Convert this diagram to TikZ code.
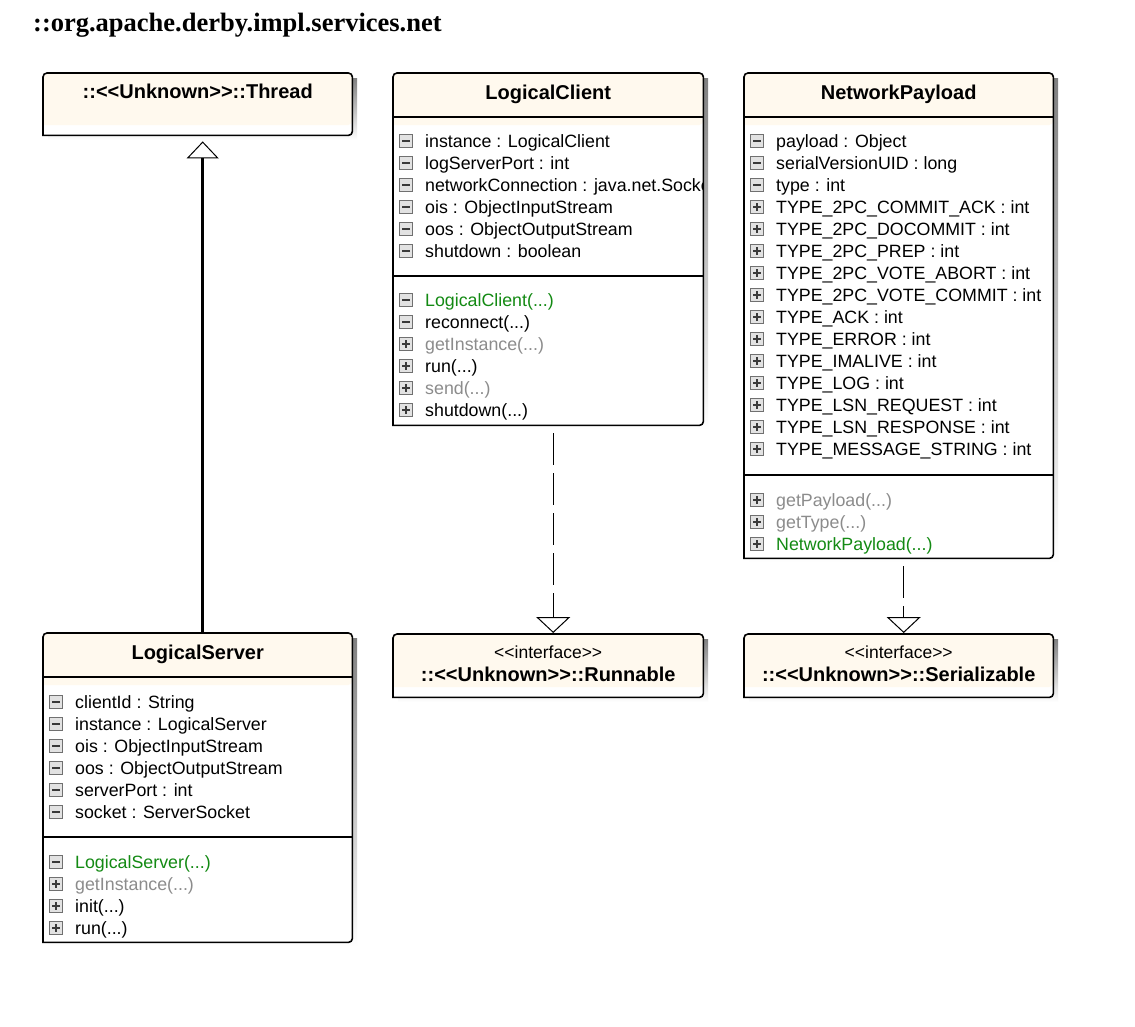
\documentclass[tikz,border=0pt]{standalone}
\usepackage{fontspec}
\setmainfont{Liberation Sans}[Ligatures=TeXOff]
\newfontfamily\pkgfont{Liberation Serif}[Ligatures=TeXOff]
\usetikzlibrary{arrows.meta,calc}

\definecolor{cream}{HTML}{FFF9EE}
\definecolor{shade}{HTML}{C4C4C4}
\definecolor{ctorgreen}{HTML}{138A13}
\definecolor{dimtext}{HTML}{8C8C8C}
\definecolor{iconedge}{HTML}{707070}
\definecolor{iconfill}{HTML}{E2E2E2}
\definecolor{iconmark}{HTML}{3A3A3A}

% argument ellipsis of the operation rows
\newcommand\argdots{.\kern0pt.\kern0pt.}

\tikzset{
  pkgtitle/.style={anchor=base west, inner sep=0pt, font=\pkgfont\fontsize{26.5}{30}\bfseries\selectfont},
  memtext/.style={anchor=base west, inner sep=0pt, font=\fontsize{17.8}{20}\selectfont},
  stereotext/.style={anchor=base, inner sep=0pt, font=\fontsize{17.5}{20}\selectfont},
  titletext/.style={anchor=base, inner sep=0pt, font=\fontsize{20}{24}\bfseries\selectfont},
  boxedge/.style={draw=black, line width=1.6pt},
  sepline/.style={draw=black, line width=1.4pt},
  iconbox/.style={draw=iconedge, fill=iconfill, line width=1.1pt},
  iconbar/.style={draw=iconmark, line width=1.7pt},
  generalize/.style={line width=3pt, shorten >=6pt,
    -{Triangle[open, length=17pt, width=32pt, line width=1pt, fill=white]}},
  realize/.style={line width=1.3pt, dash pattern=on 32pt off 8pt, shorten <=8pt, shorten >=1pt,
    -{Triangle[open, length=16pt, width=34pt, line width=1pt, fill=white]}},
}

% class frame: name, left, top, width, height, depth of the cream header
\newcommand\umlframe[6]{%
  \fill[shade] (#2+5,#3+5) rectangle (#2+#4+5,#3+#5+5);
  \fill[white] (#2,#3+#5) [rounded corners=4pt] -- (#2,#3) -- (#2+#4,#3) -- (#2+#4,#3+#5) [sharp corners] -- cycle;
  \fill[cream] (#2,#3+#6) [rounded corners=4pt] -- (#2,#3) -- (#2+#4,#3) -- (#2+#4,#3+#6) [sharp corners] -- cycle;
  \node[inner sep=0pt, minimum width=#4pt, minimum height=#5pt, anchor=north west] (#1) at (#2,#3) {};
  \draw[boxedge] (#1.south west) [rounded corners=4pt] -- (#1.north west) -- (#1.north east) -- (#1.south east) [sharp corners] -- cycle;
}

% horizontal compartment line at a given depth below the top of a frame
\newcommand\compline[2]{%
  \draw[sepline] ($(#1.north west)+(0,#2)$) -- ($(#1.north east)+(0,#2)$);
}

% visibility icons drawn around the origin
\newcommand\iconM{%
  \draw[iconbox] (-6.5,-6.5) rectangle (6.5,6.5);
  \draw[iconbar] (-4,0) -- (4,0);
}
\newcommand\iconP{%
  \draw[iconbox] (-6.5,-6.5) rectangle (6.5,6.5);
  \draw[iconbar] (-4,0) -- (4,0) (0,-4) -- (0,4);
}

% member rows: box, tag, baseline of first row below the top, rows icon/colour/text
\newcommand\members[4]{%
  \begin{scope}
    \clip (#1.north west) rectangle (#1.south east);
    \foreach \ic/\col/\txt [count=\k from 0] in {#4} {
      \begin{scope}[shift={($(#1.north west)+(13,#3-6+22*\k)$)}]
        \csname icon\ic\endcsname
      \end{scope}
      \node[memtext, text=\col] (#1-#2-\k) at ($(#1.north west)+(32,#3+22*\k)$) {\txt};
    }
  \end{scope}
}

\begin{document}
\begin{tikzpicture}[x=1pt,y=-1pt]
\useasboundingbox[fill=white] (0,0) rectangle (1135,1026);

\node[pkgtitle] (pkg) at (33,31) {::org.apache.derby.impl.services.net};

% frames
\umlframe{th}{43}{73}{309}{62}{52}
\umlframe{lc}{393}{73}{310}{352}{52}
\umlframe{np}{744}{73}{309}{485}{52}
\umlframe{ls}{43}{633}{309}{309}{52}
\umlframe{rn}{393}{634}{310}{63}{53}
\umlframe{sz}{744}{634}{309}{63}{53}

% Thread
\node[titletext] (th-t) at ($(th.north)+(0,25)$) {::<<Unknown>>::Thread};

% LogicalClient
\node[titletext] (lc-t) at ($(lc.north)+(0,26)$) {LogicalClient};
\compline{lc}{44}
\compline{lc}{203}
\members{lc}{a}{74}{
  M/black/instance : LogicalClient,
  M/black/logServerPort : int,
  M/black/networkConnection : java.net.Socket,
  M/black/ois : ObjectInputStream,
  M/black/oos : ObjectOutputStream,
  M/black/shutdown : boolean}
\members{lc}{m}{233}{
  M/ctorgreen/LogicalClient(\argdots),
  M/black/reconnect(\argdots),
  P/dimtext/getInstance(\argdots),
  P/black/run(\argdots),
  P/dimtext/send(\argdots),
  P/black/shutdown(\argdots)}

% NetworkPayload
\node[titletext] (np-t) at ($(np.north)+(0,26)$) {NetworkPayload};
\compline{np}{44}
\compline{np}{402}
\members{np}{a}{74}{
  M/black/payload : Object,
  M/black/serialVersionUID : long,
  M/black/type : int,
  P/black/TYPE\_2PC\_COMMIT\_ACK : int,
  P/black/TYPE\_2PC\_DOCOMMIT : int,
  P/black/TYPE\_2PC\_PREP : int,
  P/black/TYPE\_2PC\_VOTE\_ABORT : int,
  P/black/TYPE\_2PC\_VOTE\_COMMIT : int,
  P/black/TYPE\_ACK : int,
  P/black/TYPE\_ERROR : int,
  P/black/TYPE\_IMALIVE : int,
  P/black/TYPE\_LOG : int,
  P/black/TYPE\_LSN\_REQUEST : int,
  P/black/TYPE\_LSN\_RESPONSE : int,
  P/black/TYPE\_MESSAGE\_STRING : int}
\members{np}{m}{433}{
  P/dimtext/getPayload(\argdots),
  P/dimtext/getType(\argdots),
  P/ctorgreen/NetworkPayload(\argdots)}

% LogicalServer
\node[titletext] (ls-t) at ($(ls.north)+(0,26)$) {LogicalServer};
\compline{ls}{44}
\compline{ls}{204}
\members{ls}{a}{75}{
  M/black/clientId : String,
  M/black/instance : LogicalServer,
  M/black/ois : ObjectInputStream,
  M/black/oos : ObjectOutputStream,
  M/black/serverPort : int,
  M/black/socket : ServerSocket}
\members{ls}{m}{235}{
  M/ctorgreen/LogicalServer(\argdots),
  P/dimtext/getInstance(\argdots),
  P/black/init(\argdots),
  P/black/run(\argdots)}

% interfaces
\node[stereotext] (rn-s) at ($(rn.north)+(0,24)$) {<<interface>>};
\node[titletext] (rn-t) at ($(rn.north)+(0,47)$) {::<<Unknown>>::Runnable};
\node[stereotext] (sz-s) at ($(sz.north)+(0,24)$) {<<interface>>};
\node[titletext] (sz-t) at ($(sz.north)+(0,47)$) {::<<Unknown>>::Serializable};

% relations, run along the middle of each frame with its shadow
\draw[generalize] ([xshift=5pt]ls.north) -- ([xshift=5pt]th.south);
\draw[realize] ([xshift=5pt]lc.south) -- ([xshift=5pt]rn.north);
\draw[realize] ([xshift=5pt]np.south) -- ([xshift=5pt]sz.north);
\end{tikzpicture}
\end{document}
